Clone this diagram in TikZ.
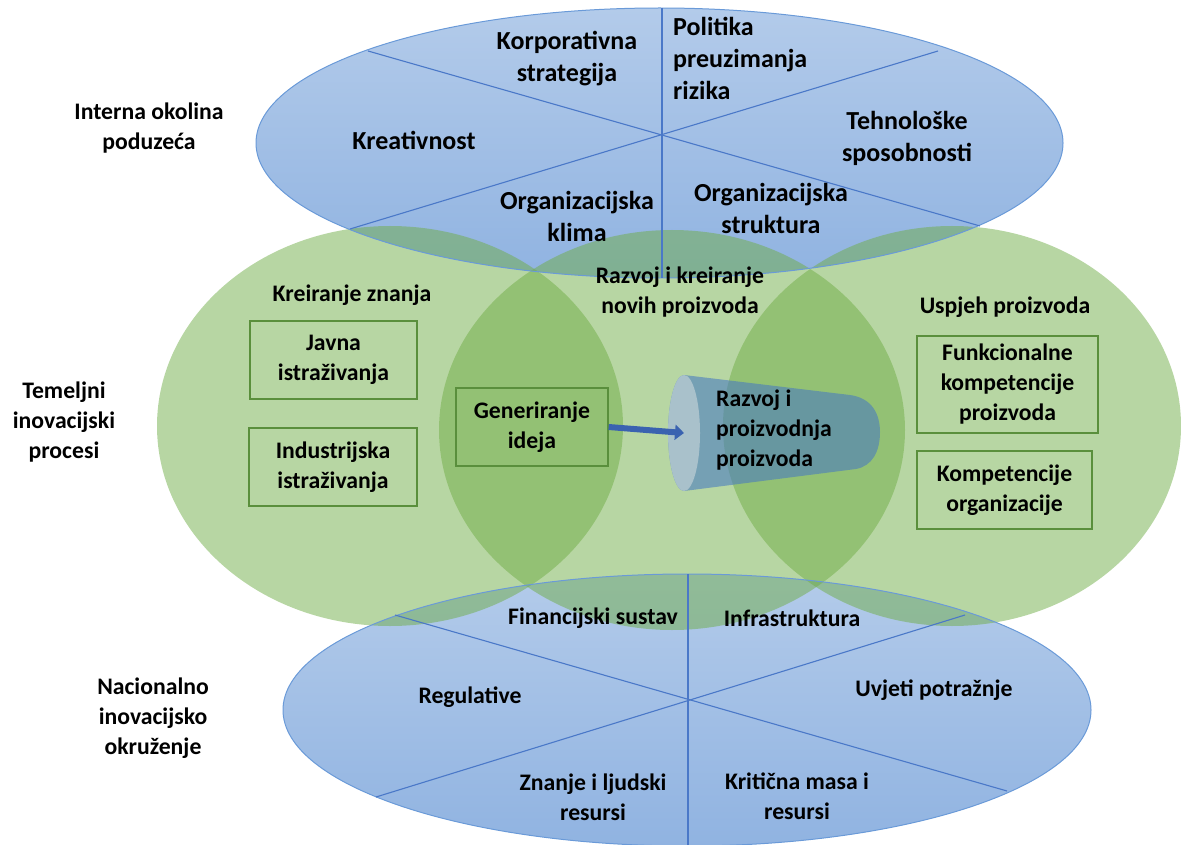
\documentclass[tikz,border=0pt]{standalone}
\usepackage{fontspec}
\setmainfont{Carlito}
\usetikzlibrary{shapes.geometric,arrows.meta}
\definecolor{bluetop}{HTML}{B3CBEA}
\definecolor{bluebot}{HTML}{90B3E1}
\definecolor{blueedge}{HTML}{6A9AD8}
\definecolor{spoke}{HTML}{4A78C8}
\definecolor{greenf}{HTML}{70AD47}
\definecolor{boxedge}{HTML}{5A8F3C}
\definecolor{cylcol}{HTML}{4A7CBF}
\definecolor{cylface}{HTML}{A9C1CB}
\definecolor{arrowcol}{HTML}{3A62B0}
\begin{document}
\begin{tikzpicture}[x=1pt,y=-1pt,
  lbl/.style={font=\fontsize{23.7}{30}\selectfont\bfseries, align=center, inner sep=0pt, text=black},
  lbltop/.style={lbl, font=\fontsize{26}{32}\selectfont\bfseries},
  boxnode/.style={draw=boxedge, line width=1.3pt, inner sep=0pt},
  spokeline/.style={draw=spoke, line width=1.1pt},
  blueell/.style={top color=bluetop, bottom color=bluebot, draw=none},
  greenell/.style={fill=greenf, fill opacity=0.5},
]
\useasboundingbox (0,0) rectangle (1181,845);
% blue ellipses
\shade[blueell] (659.5,143) ellipse [x radius=403.5pt, y radius=135pt];
\shade[blueell] (687,710) ellipse [x radius=404pt, y radius=136pt];
% green ellipses
\fill[greenell] (390,426) ellipse [x radius=233pt, y radius=200pt];
\fill[greenell] (672,430) ellipse [x radius=233pt, y radius=200pt];
\fill[greenell] (952,426) ellipse [x radius=229pt, y radius=200pt];
% blue ellipse borders
\draw[blueedge, line width=1pt] (659.5,143) ellipse [x radius=403.5pt, y radius=135pt];
\draw[blueedge, line width=1pt] (687,710) ellipse [x radius=404pt, y radius=136pt];
% spokes top
\coordinate (t1a) at (368,51);  \coordinate (t1b) at (980,226);
\coordinate (t2a) at (938,51);  \coordinate (t2b) at (350,229);
\coordinate (t3a) at (662,8);   \coordinate (t3b) at (662,278);
\draw[spokeline] (t1a) -- (t1b);
\draw[spokeline] (t2a) -- (t2b);
\draw[spokeline] (t3a) -- (t3b);
% spokes bottom
\coordinate (b1a) at (395,615);  \coordinate (b1b) at (1007,791);
\coordinate (b2a) at (965,615);  \coordinate (b2b) at (376,797);
\coordinate (b3a) at (688,574);  \coordinate (b3b) at (688,845);
\draw[spokeline] (b1a) -- (b1b);
\draw[spokeline] (b2a) -- (b2b);
\draw[spokeline] (b3a) -- (b3b);
% cylinder
\fill[cylcol, fill opacity=0.6] (684,375) -- (850,395)
  .. controls (872,398) and (880,414) .. (880,432)
  .. controls (880,452) and (872,466) .. (856,469)
  -- (684,491) arc[start angle=270, end angle=90, x radius=16pt, y radius=58pt] -- cycle;
\node[ellipse, fill=cylface, minimum width=32pt, minimum height=116pt, inner sep=0pt] (cface) at (684,433) {};
% boxes
\node[boxnode, minimum width=167pt, minimum height=78pt] (javna) at (333.5,360) {};
\node[boxnode, minimum width=168pt, minimum height=78pt] (indus) at (333,467) {};
\node[boxnode, minimum width=152pt, minimum height=78pt] (gen) at (532,427) {};
\node[boxnode, minimum width=181pt, minimum height=97pt] (funk) at (1007.5,384.5) {};
\node[boxnode, minimum width=175pt, minimum height=78pt] (komp) at (1004.5,490) {};
% arrow
\draw[arrowcol, line width=6pt, -{Triangle[length=9pt, width=15pt]}] (gen.east) -- (cface.center);
% texts
\node[lbl] (l1) at (149,128) {Interna okolina\\poduzeća};
\node[lbl] (l2) at (64,422) {Temeljni\\inovacijski\\procesi};
\node[lbl] (l3) at (153,718) {Nacionalno\\inovacijsko\\okruženje};
\node[lbltop] (korp) at (567,59) {Korporativna\\strategija};
\node[lbltop, align=left, anchor=west] (pol) at (673,58.5) {Politika\\preuzimanja\\rizika};
\node[lbltop] (krea) at (414,140) {Kreativnost};
\node[lbltop] (teh) at (907,138) {Tehnološke\\sposobnosti};
\node[lbltop] (okl) at (577,216) {Organizacijska\\klima};
\node[lbltop] (oks) at (771,208) {Organizacijska\\struktura};
\node[lbl] (kzn) at (352,295) {Kreiranje znanja};
\node[lbl] at (javna) {Javna\\istraživanja};
\node[lbl] at (indus) {Industrijska\\istraživanja};
\node[lbl] at (gen) {Generiranje\\ideja};
\node[lbl] (rkp) at (680,292) {Razvoj i kreiranje\\novih proizvoda};
\node[lbl] (usp) at (1005,307) {Uspjeh proizvoda};
\node[lbl] at (funk) {Funkcionalne\\kompetencije\\proizvoda};
\node[lbl] at (komp) {Kompetencije\\organizacije};
\node[lbl, align=left, anchor=west] (rpp) at (716,430) {Razvoj i\\proizvodnja\\proizvoda};
\node[lbl] (fin) at (593,618) {Financijski sustav};
\node[lbl] (inf) at (792,618) {Infrastruktura};
\node[lbl] (reg) at (470,697) {Regulative};
\node[lbl] (uvj) at (934,690) {Uvjeti potražnje};
\node[lbl] (znl) at (593,797) {Znanje i ljudski\\resursi};
\node[lbl] (krm) at (797,796) {Kritična masa i\\resursi};
\end{tikzpicture}
\end{document}
